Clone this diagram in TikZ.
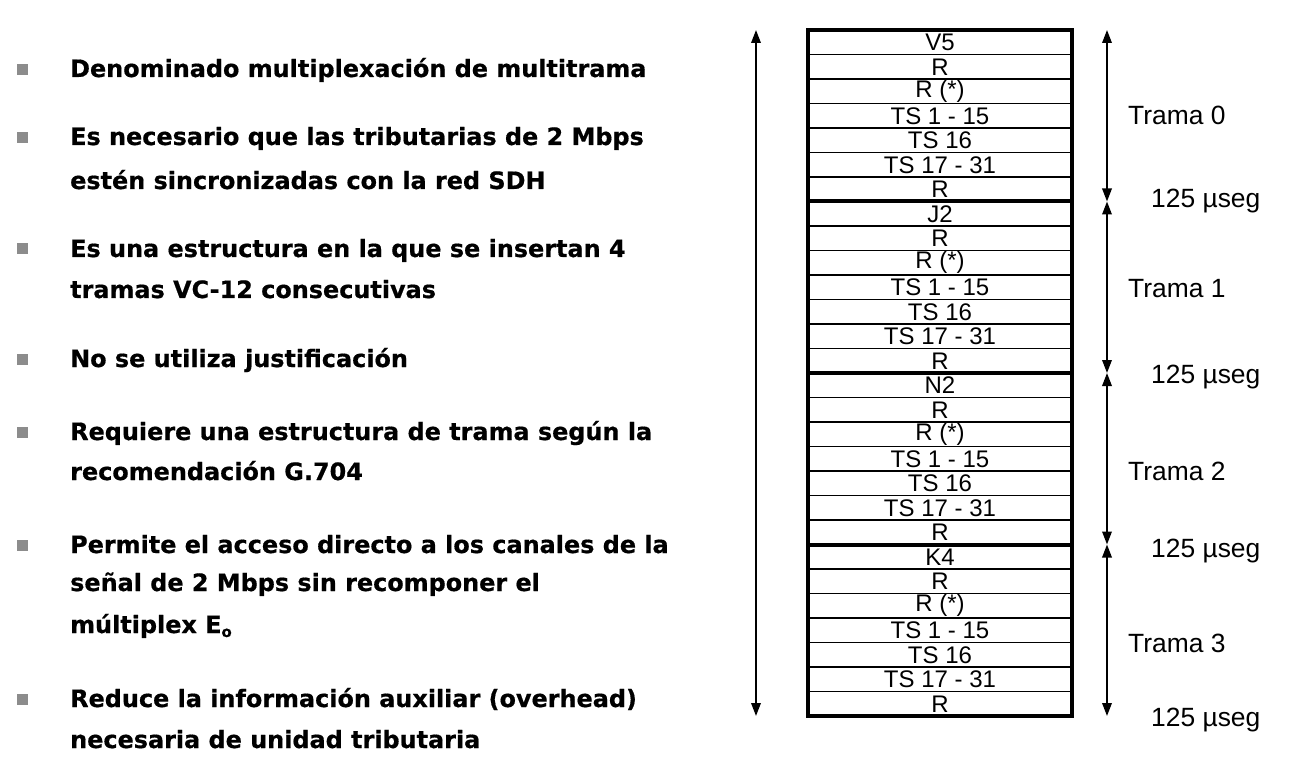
\documentclass[tikz,border=0pt]{standalone}
\usepackage{fontspec}
\setmainfont{DejaVu Sans}[BoldFeatures={FakeBold=0.6}]
\newfontfamily\arialf{Liberation Sans}
\usetikzlibrary{arrows.meta}
\definecolor{bulletgray}{RGB}{140,140,140}
\begin{document}
\begin{tikzpicture}[x=1pt,y=-1pt,
  bullettext/.style={anchor=base west, inner sep=0, font=\fontsize{23.9}{28}\selectfont\bfseries},
  bulletsq/.style={fill=bulletgray, minimum size=11, inner sep=0},
  rowbox/.style={draw, line width=1.5, minimum width=264, minimum height=24.5, inner sep=0, outer sep=0,
    font=\arialf\fontsize{24}{24}\selectfont, anchor=north west},
  sidelabel/.style={anchor=base west, inner sep=0, font=\arialf\fontsize{26.4}{26.4}\selectfont},
  dimarrow/.style={line width=1.8, {Triangle[length=13,width=9.5]}-{Triangle[length=13,width=9.5]}}
]
\useasboundingbox (0,0) rectangle (1294,770);

% bullet points
\node[bulletsq] (b1) at (22.5,70) {};
\node[bulletsq] (b2) at (22.5,138) {};
\node[bulletsq] (b3) at (22.5,249) {};
\node[bulletsq] (b4) at (22.5,359) {};
\node[bulletsq] (b5) at (22.5,432) {};
\node[bulletsq] (b6) at (22.5,545) {};
\node[bulletsq] (b7) at (22.5,699) {};

\node[bullettext] (t1) at (70,77) {Denominado multiplexación de multitrama};
\node[bullettext] (t2a) at (70,145) {Es necesario que las tributarias de 2 Mbps};
\node[bullettext] (t2b) at (70,189) {estén sincronizadas con la red SDH};
\node[bullettext] (t3a) at (70,257) {Es una estructura en la que se insertan 4};
\node[bullettext] (t3b) at (70,298) {tramas VC-12 consecutivas};
\node[bullettext] (t4) at (70,367) {No se utiliza justificación};
\node[bullettext] (t5a) at (70,440) {Requiere una estructura de trama según la};
\node[bullettext] (t5b) at (70,480) {recomendación G.704};
\node[bullettext] (t6a) at (70,553) {Permite el acceso directo a los canales de la};
\node[bullettext] (t6b) at (70,591) {señal de 2 Mbps sin recomponer el};
\node[bullettext] (t6c) at (70,633) {múltiplex E\raisebox{-4pt}{\fontsize{15}{15}\selectfont o}};
\node[bullettext] (t7a) at (70,707) {Reduce la información auxiliar (overhead)};
\node[bullettext] (t7b) at (70,748) {necesaria de unidad tributaria};

% multiframe rows
\foreach \f/\h in {0/V5,1/J2,2/N2,3/K4} {
  \foreach \t [count=\r from 0] in {\h, R, R (*), TS 1 - 15, TS 16, TS 17 - 31, R} {
    \node[rowbox] (row-\f-\r) at (808,{30+(7*\f+\r)*24.5}) {\t};
  }
}
\draw[line width=4] (row-0-0.north west) rectangle (row-3-6.south east);
\foreach \f in {1,2,3} {
  \draw[line width=4] (row-\f-0.north west) -- (row-\f-0.north east);
}

% arrows
\coordinate (lt) at (756,30);
\coordinate (lb) at (756,716);
\draw[dimarrow] (lt) -- (lb);
\foreach \i/\yy in {0/30,1/201.5,2/373,3/544.5,4/716} {
  \coordinate (r\i) at (1107,\yy);
}
\draw[dimarrow] (r0) -- (r1);
\draw[dimarrow] (r1) -- (r2);
\draw[dimarrow] (r2) -- (r3);
\draw[dimarrow] (r3) -- (r4);

% side labels
\node[sidelabel] (tr0) at (1128,125) {Trama 0};
\node[sidelabel] (tr1) at (1128,298) {Trama 1};
\node[sidelabel] (tr2) at (1128,480) {Trama 2};
\node[sidelabel] (tr3) at (1128,652) {Trama 3};
\node[sidelabel] (us0) at (1151,208) {125 µseg};
\node[sidelabel] (us1) at (1151,383) {125 µseg};
\node[sidelabel] (us2) at (1151,557) {125 µseg};
\node[sidelabel] (us3) at (1151,726) {125 µseg};
\end{tikzpicture}
\end{document}
